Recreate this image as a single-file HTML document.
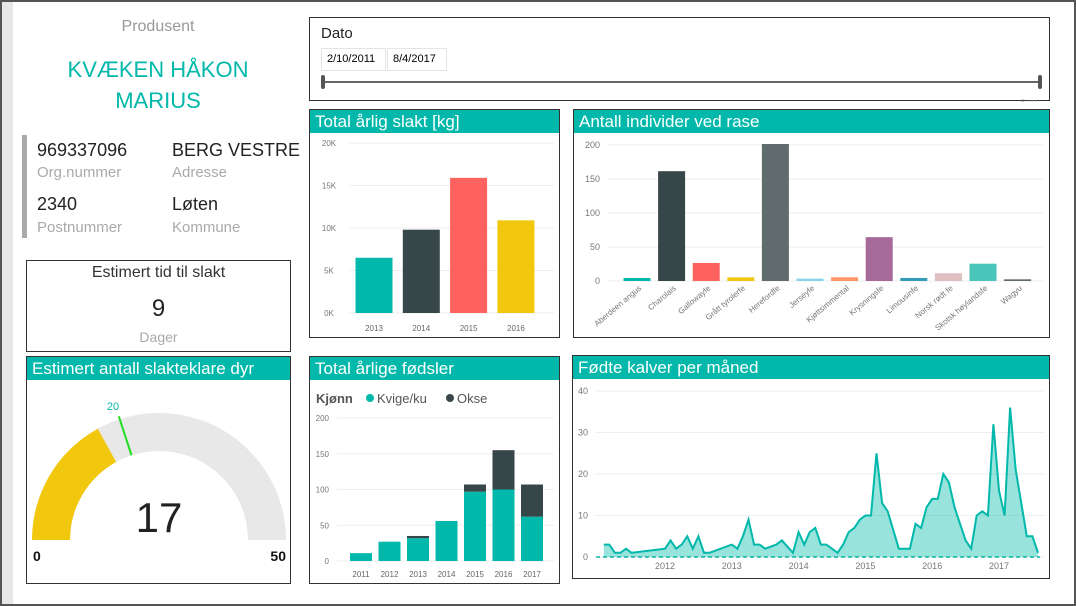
<!DOCTYPE html>
<html><head><meta charset="utf-8">
<style>
body{margin:0;width:1076px;height:606px;overflow:hidden;background:#fff;font-family:"Liberation Sans","DejaVu Sans",sans-serif;position:relative}
.abs{position:absolute}
.panel{position:absolute;border:1px solid #333;background:#fff;box-sizing:border-box}
.hdr{position:absolute;left:0;right:0;top:0;height:23px;background:#01B8AA;color:#fff;font-size:17px;line-height:23px;padding-left:5px}
svg text{font-family:"Liberation Sans",sans-serif}
</style></head><body>
<div class="abs" style="left:0;top:0;width:1072px;height:602px;border:2px solid #555"></div>
<div class="abs" style="left:2px;top:2px;width:11px;height:602px;background:#e8e8e8"></div>

<div class="abs" style="left:26px;width:264px;top:18px;text-align:center;color:#999;font-size:16px">Produsent</div>
<div class="abs" style="left:26px;width:264px;top:54px;text-align:center;color:#01B8AA;font-size:22px;line-height:31px">KVÆKEN HÅKON<br>MARIUS</div>
<div class="abs" style="left:22px;top:135px;width:5px;height:103px;background:#aaa"></div>
<div class="abs" style="left:37px;top:140px;font-size:18px;color:#222">969337096</div>
<div class="abs" style="left:37px;top:164px;font-size:15px;color:#aaa">Org.nummer</div>
<div class="abs" style="left:172px;top:140px;font-size:18px;color:#222">BERG VESTRE</div>
<div class="abs" style="left:172px;top:164px;font-size:15px;color:#aaa">Adresse</div>
<div class="abs" style="left:37px;top:194px;font-size:18px;color:#222">2340</div>
<div class="abs" style="left:37px;top:219px;font-size:15px;color:#aaa">Postnummer</div>
<div class="abs" style="left:172px;top:194px;font-size:18px;color:#222">Løten</div>
<div class="abs" style="left:172px;top:219px;font-size:15px;color:#aaa">Kommune</div>

<div class="panel" style="left:26px;top:260px;width:265px;height:92px">
<div class="abs" style="left:0;right:0;top:3px;text-align:center;font-size:16px;color:#333">Estimert tid til slakt</div>
<div class="abs" style="left:0;right:0;top:34px;text-align:center;font-size:24px;color:#222">9</div>
<div class="abs" style="left:0;right:0;top:68px;text-align:center;font-size:14px;color:#aaa">Dager</div>
</div>

<div class="panel" style="left:26px;top:356px;width:265px;height:228px">
<div class="hdr">Estimert antall slakteklare dyr</div>
<svg class="abs" style="left:-1px;top:-1px" width="265" height="228" id="gsvg"></svg>
</div>

<div class="panel" style="left:309px;top:17px;width:741px;height:84px">
<div class="abs" style="left:11px;top:7px;font-size:15px;color:#222">Dato</div>
<div class="abs" style="left:11px;top:30px;width:58px;height:21px;border:1px solid #e4e4e4;font-size:11px;line-height:21px;padding-left:5px">2/10/2011</div>
<div class="abs" style="left:77px;top:30px;width:53px;height:21px;border:1px solid #e4e4e4;font-size:11px;line-height:21px;padding-left:5px">8/4/2017</div>
<div class="abs" style="left:13px;top:63px;width:718px;height:2px;background:#666"></div>
<div class="abs" style="left:11px;top:57px;width:4px;height:14px;border-radius:2px;background:#555"></div>
<div class="abs" style="left:728px;top:57px;width:4px;height:14px;border-radius:2px;background:#555"></div>
</div>
<div class="abs" style="left:1021px;top:96px;font-size:10px;color:#888">▫ ⋯</div>

<div class="panel" style="left:309px;top:109px;width:251px;height:229px">
<div class="hdr">Total årlig slakt [kg]</div>
<svg class="abs" style="left:-1px;top:-1px" width="251" height="229" id="s1"></svg>
</div>
<div class="panel" style="left:573px;top:109px;width:477px;height:229px">
<div class="hdr">Antall individer ved rase</div>
<svg class="abs" style="left:-1px;top:-1px" width="477" height="229" id="s2"></svg>
</div>
<div class="panel" style="left:309px;top:356px;width:251px;height:228px">
<div class="hdr">Total årlige fødsler</div>
<svg class="abs" style="left:-1px;top:-1px" width="251" height="228" id="s3"></svg>
</div>
<div class="panel" style="left:572px;top:355px;width:478px;height:224px">
<div class="hdr">Fødte kalver per måned</div>
<svg class="abs" style="left:-1px;top:-1px" width="478" height="224" id="s4"></svg>
</div>

<script>
const NS="http://www.w3.org/2000/svg";
function mk(svg,tag,attrs,txt){const e=document.createElementNS(NS,tag);for(const k in attrs)e.setAttribute(k,attrs[k]);if(txt!==undefined)e.textContent=txt;svg.appendChild(e);return e;}

// ---- data ----
const slaughterYears=["2013","2014","2015","2016"];
const slaughterKg=[6500,9800,15900,10900];
const slaughterColors=["#01B8AA","#374649","#FD625E","#F2C80F"];
const slaughterTicks=[0,5000,10000,15000,20000];
const slaughterTickLabels=["0K","5K","10K","15K","20K"];

const breeds=["Aberdeen angus","Charolais","Gallowayfe","Grått tyrolerfe","Herefordfe","Jerseyfe","Kjøttsimmental","Krysningsfe","Limousinfe","Norsk rødt fe","Skotsk høylandsfe","Wagyu"];
const breedCounts=[3,160,25,4,200,2,4,63,3,10,24,1];
const breedColors=["#01B8AA","#374649","#FD625E","#F2C80F","#5F6B6D","#8AD4EB","#FE9666","#A66999","#3599B8","#DFBFBF","#4AC5BB","#5F6B6D"];
const breedTicks=[0,50,100,150,200];

const birthYears=["2011","2012","2013","2014","2015","2016","2017"];
const birthsFemale=[11,27,32,56,97,100,62];
const birthsMale=[0,0,3,0,10,55,45];
const birthTicks=[0,50,100,150,200];

const calfMonths=[1,2,3,4,5,6,12,13,14,15,16,17,18,19,20,24,25,26,27,28,29,30,32,33,35,36,37,38,39,40,41,43,44,45,46,47,48,49,50,51,52,54,56,57,58,59,60,61,62,63,64,66,67,68,69,70,71,72,73,74,75,77,78,79];
const calfCounts=[3,3,1,1,2,1,2,4,2,3,5,2,5,1,1,3,2,5,9,3,3,2,3,4,1,6,3,6,7,3,3,1,3,6,7,9,10,10,25,13,11,2,2,8,7,12,14,14,20,18,12,4,2,10,11,10,32,16,10,36,21,5,5,1];
const calfTicks=[0,10,20,30,40];
const calfYearLabels=["2012","2013","2014","2015","2016","2017"];

const gaugeValue=17, gaugeTarget=20, gaugeMin=0, gaugeMax=50;

// ---- slaughter chart ----
(function(){
const s=document.getElementById('s1');
const y=v=>204-v/20000*170, x0=65, step=47.3, bw=37;
slaughterTicks.forEach((t,i)=>{const l=mk(s,'line',{x1:40,x2:245,y1:y(t),y2:y(t),stroke:'#eee'});

const tx=mk(s,'text',{x:20,y:y(t)+3,'font-size':8,fill:'#777','text-anchor':'middle'},slaughterTickLabels[i]);
});
slaughterKg.forEach((v,i)=>{const cx=x0+i*step;
const r=mk(s,'rect',{x:cx-bw/2,y:y(v),width:bw,height:y(0)-y(v),fill:slaughterColors[i]});

const t=mk(s,'text',{x:cx,y:222,'font-size':8,fill:'#666','text-anchor':'middle'},slaughterYears[i]);
});
})();

// ---- breed chart ----
(function(){
const s=document.getElementById('s2');
const y=v=>172-v/200*136, x0=64, step=34.6, bw=27;
breedTicks.forEach(t=>{const l=mk(s,'line',{x1:35,x2:470,y1:y(t),y2:y(t),stroke:'#eee'});

const tx=mk(s,'text',{x:27,y:y(t)+3,'font-size':9,fill:'#777','text-anchor':'end'},t);
});
breedCounts.forEach((v,i)=>{const cx=x0+i*step;
const r=mk(s,'rect',{x:cx-bw/2,y:y(v)-1,width:bw,height:y(0)-y(v)+1,fill:breedColors[i]});

const t=mk(s,'text',{x:cx+5,y:180,'font-size':8,fill:'#777','text-anchor':'end',transform:`rotate(-40 ${cx+5} 180)`},breeds[i]);
});
})();

// ---- births chart ----
(function(){
const s=document.getElementById('s3');
const y=v=>205-v/200*143, x0=52, step=28.5, bw=22;
const lt=mk(s,'text',{x:7,y:47,'font-size':13,fill:'#555','font-weight':'bold'},'Kjønn');

const c1=mk(s,'circle',{cx:61,cy:42,r:4,fill:'#01B8AA'});
const t1=mk(s,'text',{x:68,y:47,'font-size':13,fill:'#555'},'Kvige/ku');
const c2=mk(s,'circle',{cx:141,cy:42,r:4,fill:'#374649'});
const t2=mk(s,'text',{x:148,y:47,'font-size':13,fill:'#555'},'Okse');
birthTicks.forEach(t=>{const l=mk(s,'line',{x1:28,x2:245,y1:y(t),y2:y(t),stroke:'#eee'});

const tx=mk(s,'text',{x:20,y:y(t)+3,'font-size':8,fill:'#777','text-anchor':'end'},t);
});
birthYears.forEach((yr,i)=>{const cx=x0+i*step,f=birthsFemale[i],m=birthsMale[i];
const r=mk(s,'rect',{x:cx-bw/2,y:y(f),width:bw,height:y(0)-y(f),fill:'#01B8AA'});

const r2=mk(s,'rect',{x:cx-bw/2,y:y(f+m),width:bw,height:y(f)-y(f+m),fill:'#374649'});

const t=mk(s,'text',{x:cx,y:221,'font-size':8,fill:'#666','text-anchor':'middle'},yr);
});
})();

// ---- calves area chart ----
(function(){
const s=document.getElementById('s4');
const y=v=>202-v/40*166, x=m=>93+(m-12)*66.8/12;
calfTicks.forEach(t=>{const l=mk(s,'line',{x1:24,x2:472,y1:y(t),y2:y(t),stroke:'#eee'});

const tx=mk(s,'text',{x:16,y:y(t)+3,'font-size':9,fill:'#777','text-anchor':'end'},t);
});
const z=mk(s,'line',{x1:24,x2:468,y1:y(0),y2:y(0),stroke:'#4AC5BB','stroke-width':2,'stroke-dasharray':'4,3'});

let pts=calfMonths.map((m,i)=>x(m).toFixed(1)+','+y(calfCounts[i]).toFixed(1));
const area=mk(s,'polygon',{points:x(calfMonths[0])+','+y(0)+' '+pts.join(' ')+' '+x(calfMonths[calfMonths.length-1])+','+y(0),fill:'#01B8AA','fill-opacity':0.4});

const line=mk(s,'polyline',{points:pts.join(' '),fill:'none',stroke:'#01B8AA','stroke-width':2});

calfYearLabels.forEach(l=>{const m=(parseInt(l)-2011)*12;
const t=mk(s,'text',{x:x(m),y:214,'font-size':9,fill:'#777','text-anchor':'middle'},l);
});
})();

// ---- gauge ----
(function(){
const s=document.getElementById('gsvg');
const cx=133,cy=184,R=127,r=89;
const ang=v=>Math.PI*(1-(v-gaugeMin)/(gaugeMax-gaugeMin));
const pt=(a,rad)=>[cx+rad*Math.cos(a),cy-rad*Math.sin(a)];
function arc(v0,v1,col,name){const a0=ang(v0),a1=ang(v1);const p0=pt(a0,R),p1=pt(a1,R),p2=pt(a1,r),p3=pt(a0,r);
const p=mk(s,'path',{d:`M${p0} A${R},${R} 0 0 1 ${p1} L${p2} A${r},${r} 0 0 0 ${p3} Z`,fill:col});
}
arc(gaugeMin,gaugeMax,'#e8e8e8','gauge-track');
arc(gaugeMin,gaugeValue,'#F2C80F','gauge-value-arc');
const a=ang(gaugeTarget),q0=pt(a,R+3),q1=pt(a,r);
const tl=mk(s,'line',{x1:q0[0],y1:q0[1],x2:q1[0],y2:q1[1],stroke:'#22dd22','stroke-width':2});

const lp=pt(a,R+12);
const tt=mk(s,'text',{x:lp[0]-3,y:lp[1]+2,'font-size':11,fill:'#01B8AA','text-anchor':'middle'},gaugeTarget);

const v=mk(s,'text',{x:cx,y:176,'font-size':42,fill:'#222','text-anchor':'middle','style':'font-family:"Liberation Sans Narrow","Liberation Sans",sans-serif'},gaugeValue);

const mn=mk(s,'text',{x:7,y:205,'font-size':14,fill:'#111','font-weight':'600'},gaugeMin);

const mx=mk(s,'text',{x:260,y:205,'font-size':14,fill:'#111','text-anchor':'end','font-weight':'600'},gaugeMax);

})();
</script>
</body></html>
